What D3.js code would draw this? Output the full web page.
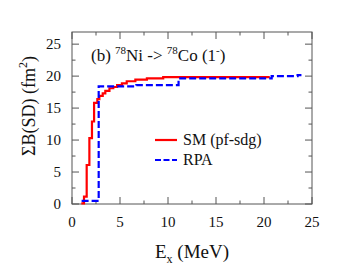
<!DOCTYPE html>
<html><head><meta charset="utf-8">
<script src="https://cdn.jsdelivr.net/npm/d3@7"></script>
<style>body{margin:0;background:#fff}svg{display:block}</style>
</head><body><svg id="c" width="338" height="279"></svg>
<script>
const smE = [0.97, 1.25, 1.53, 1.81, 2.08, 2.3, 2.64, 2.85, 3.2, 3.47, 3.9, 4.3, 4.7, 5.2, 5.7, 6.6, 7.8, 9.5, 20.6];
const smB = [0.1, 1.15, 6.1, 10.3, 12.9, 15.8, 16.4, 16.9, 17.3, 17.7, 18.1, 18.3, 18.6, 18.85, 19.2, 19.45, 19.65, 19.85, 19.85];
const rpaE = [1.0, 2.78, 6.7, 11.1, 20.8, 23.5, 23.9];
const rpaB = [0.5, 18.4, 18.6, 19.65, 20.0, 20.15, 20.15];
const xTicks = [0, 5, 10, 15, 20, 25];
const yTicks = [0, 5, 10, 15, 20, 25];
const seriesNames = ["SM (pf-sdg)", "RPA"];

const FONT = "Liberation Serif";
const svg = d3.select("#c");
const L = 72, R = 312, T = 32, B = 204;
const x = d3.scaleLinear().domain([0, 25]).range([L, R]);
const y = d3.scaleLinear().domain([0, 26.9]).range([B, T]);
const axisCol = "#555";
const txtCol = "#111";
function txt(sel) { return sel.append("text").style("font-family", FONT).attr("font-family", FONT).attr("fill", txtCol); }

const g = svg.append("g");
g.append("rect").attr("x", L).attr("y", T).attr("width", R - L).attr("height", B - T)
  .attr("fill", "none").attr("stroke", axisCol).attr("stroke-width", 1);

const xMinor = d3.range(0, 25.01, 2.5);
const yMinor = d3.range(0, 26.9, 2.5);
function tickLines(sel, vals, len, orient) {
  vals.forEach(v => {
    if (orient === "b") sel.append("line").attr("x1", x(v)).attr("x2", x(v)).attr("y1", B).attr("y2", B - len);
    if (orient === "t") sel.append("line").attr("x1", x(v)).attr("x2", x(v)).attr("y1", T).attr("y2", T + len);
    if (orient === "l") sel.append("line").attr("y1", y(v)).attr("y2", y(v)).attr("x1", L).attr("x2", L + len);
    if (orient === "r") sel.append("line").attr("y1", y(v)).attr("y2", y(v)).attr("x1", R).attr("x2", R - len);
  });
}
const tg = g.append("g").attr("stroke", axisCol).attr("stroke-width", 1);
["b", "t"].forEach(o => { tickLines(tg, xMinor.filter(v => v % 5 !== 0), 3.5, o); tickLines(tg, xTicks, 7, o); });
["l", "r"].forEach(o => { tickLines(tg, yMinor.filter(v => v % 5 !== 0), 3.5, o); tickLines(tg, yTicks, 7, o); });

xTicks.forEach(d => txt(g).attr("x", x(d)).attr("y", 227).attr("text-anchor", "middle").attr("font-size", 15).text(d));
yTicks.forEach(d => txt(g).attr("x", 61).attr("y", y(d) + 5).attr("text-anchor", "end").attr("font-size", 15).text(d));

const xt = txt(svg).attr("x", 192).attr("y", 258).attr("text-anchor", "middle").attr("font-size", 19);
xt.append("tspan").text("E");
xt.append("tspan").attr("font-size", 12).attr("dy", 5).text("x");
xt.append("tspan").attr("dy", -5).text(" (MeV)");

const yt = txt(svg).attr("transform", "translate(35,106) rotate(-90)").attr("text-anchor", "middle").attr("font-size", 18);
yt.append("tspan").text("\u03A3B(SD) (fm");
yt.append("tspan").attr("font-size", 12).attr("dy", -8).text("2");
yt.append("tspan").attr("dy", 8).text(")");

const an = txt(svg).attr("x", 91).attr("y", 61).attr("font-size", 17);
an.append("tspan").text("(b) ");
an.append("tspan").attr("font-size", 11).attr("dy", -7).text("78");
an.append("tspan").attr("dy", 7).text("Ni -> ");
an.append("tspan").attr("font-size", 11).attr("dy", -7).text("78");
an.append("tspan").attr("dy", 7).text("Co (1");
an.append("tspan").attr("font-size", 11).attr("dy", -7).text("-");
an.append("tspan").attr("dy", 7).text(")");

const line = d3.line().x(d => x(d[0])).y(d => y(d[1])).curve(d3.curveStepAfter);
const smPts = smE.map((e, i) => [e, smB[i]]);
const rpaPts = rpaE.map((e, i) => [e, rpaB[i]]);
svg.append("path").attr("d", line(smPts)).attr("fill", "none").attr("stroke", "#ff0000").attr("stroke-width", 2.2);
svg.append("path").attr("d", line(rpaPts)).attr("fill", "none").attr("stroke", "#0000ff").attr("stroke-width", 2.2)
  .attr("stroke-dasharray", "7,3");

const leg = [{c: "#ff0000", d: null, y: 140}, {c: "#0000ff", d: "6,2.5", y: 160}];
leg.forEach((l, i) => {
  svg.append("line").attr("x1", 155).attr("x2", 177).attr("y1", l.y).attr("y2", l.y)
    .attr("stroke", l.c).attr("stroke-width", 2.2).attr("stroke-dasharray", l.d);
  txt(svg).attr("x", 183).attr("y", l.y + 5).attr("font-size", 16).text(seriesNames[i]);
});
</script></body></html>
